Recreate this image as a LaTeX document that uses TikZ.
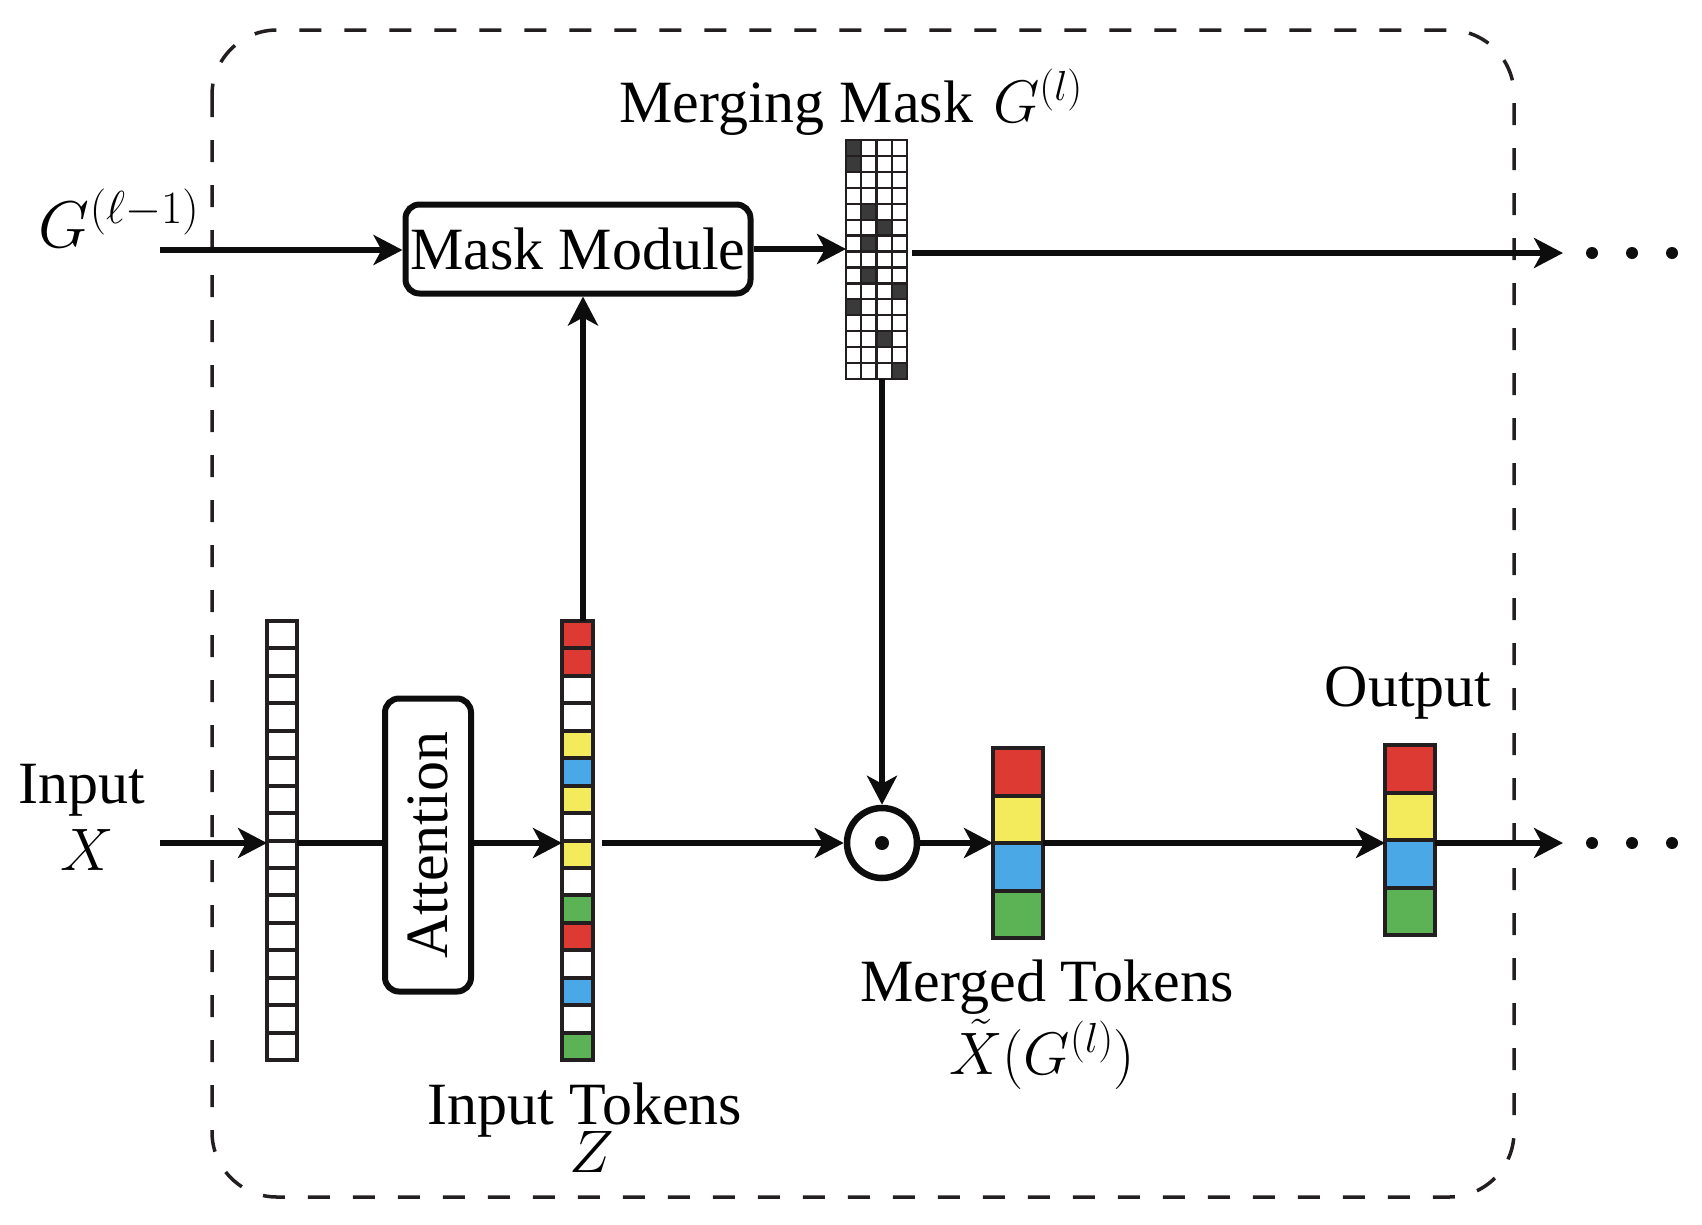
\documentclass[tikz,border=0pt]{standalone}
\usepackage{fix-cm}
\usepackage[no-math]{fontspec}
\setmainfont{Liberation Serif}
\usetikzlibrary{arrows.meta}
\definecolor{tred}{HTML}{DC3A33}
\definecolor{tyel}{HTML}{F3EB5C}
\definecolor{tblu}{HTML}{4AA8E6}
\definecolor{tgrn}{HTML}{5CB356}
\definecolor{tline}{HTML}{231F20}
\definecolor{tarrow}{HTML}{0D0D0D}
\definecolor{tdark}{HTML}{3A3A3A}
\tikzset{
  arr/.style={line width=5.5pt, tarrow, -{Stealth[length=29pt,width=30pt,inset=8pt]}},
  plainline/.style={line width=5.5pt, tarrow},
  blockbox/.style={draw=tarrow, line width=6pt, rounded corners=14pt, fill=white, inner sep=0pt},
  colframe/.style={inner sep=0pt, outer sep=0pt},
  cellbox/.style={draw=tline, line width=4pt},
  gridcell/.style={draw=tline, line width=2.3pt},
  lbl/.style={inner sep=0pt, anchor=base, font=\fontsize{60}{72}\selectfont},
  dotnode/.style={circle, fill=tarrow, minimum size=12pt, inner sep=0pt},
}
\begin{document}
\begin{tikzpicture}[x=1pt,y=-1pt]
\useasboundingbox (0,0) rectangle (1702,1224);
% outer dashed frame
\draw[tline, line width=3.5pt, dash pattern=on 22pt off 23pt, rounded corners=65pt] (212,30) rectangle (1514,1197);

% ---------- column frames (for anchoring) ----------
\node[colframe, minimum width=30pt, minimum height=439pt] (lcol) at (282,840.5) {};
\node[colframe, minimum width=31pt, minimum height=439pt] (tcol) at (577.5,840.5) {};
\node[colframe, minimum width=50pt, minimum height=190pt] (mcol) at (1018,843) {};
\node[colframe, minimum width=50pt, minimum height=190pt] (ocol) at (1410,840) {};
\node[colframe, minimum width=61pt, minimum height=239pt] (grid) at (876.5,259.5) {};

% left (plain) column: 16 white cells
\foreach \i in {0,...,15}{
  \draw[cellbox, fill=white] (267,621+27.4375*\i) rectangle (297,621+27.4375*\i+27.4375);
}
% input tokens column
\foreach \c [count=\i from 0] in {tred,tred,white,white,tyel,tblu,tyel,white,tyel,white,tgrn,tred,white,tblu,white,tgrn}{
  \draw[cellbox, fill=\c] (562,621+27.4375*\i) rectangle (593,621+27.4375*\i+27.4375);
}
% merged tokens column
\foreach \c [count=\i from 0] in {tred,tyel,tblu,tgrn}{
  \draw[cellbox, fill=\c] (993,748+47.5*\i) rectangle (1043,748+47.5*\i+47.5);
}
% output column
\foreach \c [count=\i from 0] in {tred,tyel,tblu,tgrn}{
  \draw[cellbox, fill=\c] (1385,745+47.5*\i) rectangle (1435,745+47.5*\i+47.5);
}
% merging mask grid 15 x 4
\foreach \r in {0,...,14}{
  \foreach \c in {0,...,3}{
    \draw[gridcell, fill=white] (846+15.25*\c,140+15.933*\r) rectangle (846+15.25*\c+15.25,140+15.933*\r+15.933);
  }
}
\foreach \r/\c in {0/0,1/0,4/1,5/2,6/1,8/1,9/3,10/0,12/2,14/3}{
  \draw[gridcell, fill=tdark] (846+15.25*\c,140+15.933*\r) rectangle (846+15.25*\c+15.25,140+15.933*\r+15.933);
}

% ---------- blocks ----------
\node[blockbox, minimum width=345pt, minimum height=89pt, font=\fontsize{60}{72}\selectfont] (mm) at (578,249) {Mask Module};
\node[blockbox, minimum width=86pt, minimum height=293pt] (att) at (428,845) {};
\node[inner sep=0pt, rotate=90, font=\fontsize{60}{72}\selectfont] (atttext) at (att.center) {Attention};
\node[circle, draw=tarrow, line width=6.5pt, minimum size=70pt, inner sep=0pt, fill=white] (odot) at (882,843) {};
\fill[tarrow] (odot.center) circle (7pt);

% ---------- labels ----------
\node[lbl, font=\fontsize{66}{78}\selectfont] (gprev) at (119,247) {$G^{(\ell-1)}$};
\node[lbl, anchor=base west] (mmlabel) at (619,122) {Merging Mask\hspace{20pt}$G^{(l)}$};
\node[lbl] (inlabel) at (82,803) {Input};
\node[lbl] (xlabel) at (87,870) {$X$};
\node[lbl] (itlabel) at (585,1124) {Input Tokens};
\node[lbl] (zlabel) at (592,1172) {$Z$};
\node[lbl] (mtlabel) at (1047,1001) {Merged Tokens};
\node[lbl] (xtlabel) at (1042,1074) {$\tilde{X}(G^{(l)})$};
\node[lbl] (outlabel) at (1408,706) {Output};

% ---------- free ends ----------
\coordinate (gin) at (160,250);
\coordinate (gout) at (1563,253);
\coordinate (xin) at (160,843);
\coordinate (xout) at (1563,843);

% dots
\node[dotnode] (d1) at (1592,253) {};
\node[dotnode] (d2) at (1632,253) {};
\node[dotnode] (d3) at (1672,253) {};
\node[dotnode] (d4) at (1592,843) {};
\node[dotnode] (d5) at (1632,843) {};
\node[dotnode] (d6) at (1672,843) {};

% ---------- connectors ----------
\draw[arr] (gin) -- (mm.west |- gin);
\draw[arr] (mm.east) -- (mm.east -| grid.west);
\draw[arr] ([xshift=5pt]grid.east |- gout) -- (gout);
\draw[arr] ([xshift=5.5pt]tcol.north) -- ([xshift=5.5pt]tcol.north |- mm.south);
\draw[arr] ([xshift=5.5pt]grid.south) -- (odot.north);

\draw[arr] (xin) -- (lcol.west |- xin);
\draw[plainline] (lcol.east |- xin) -- (att.west |- xin);
\draw[arr] (att.east |- xin) -- (tcol.west |- xin);
\draw[arr] ([xshift=9pt]tcol.east |- xin) -- (odot.west);
\draw[arr] (odot.east) -- (mcol.west |- odot.east);
\draw[arr] (mcol.east |- xin) -- (ocol.west |- xin);
\draw[arr] (ocol.east |- xin) -- (xout);
\end{tikzpicture}
\end{document}
